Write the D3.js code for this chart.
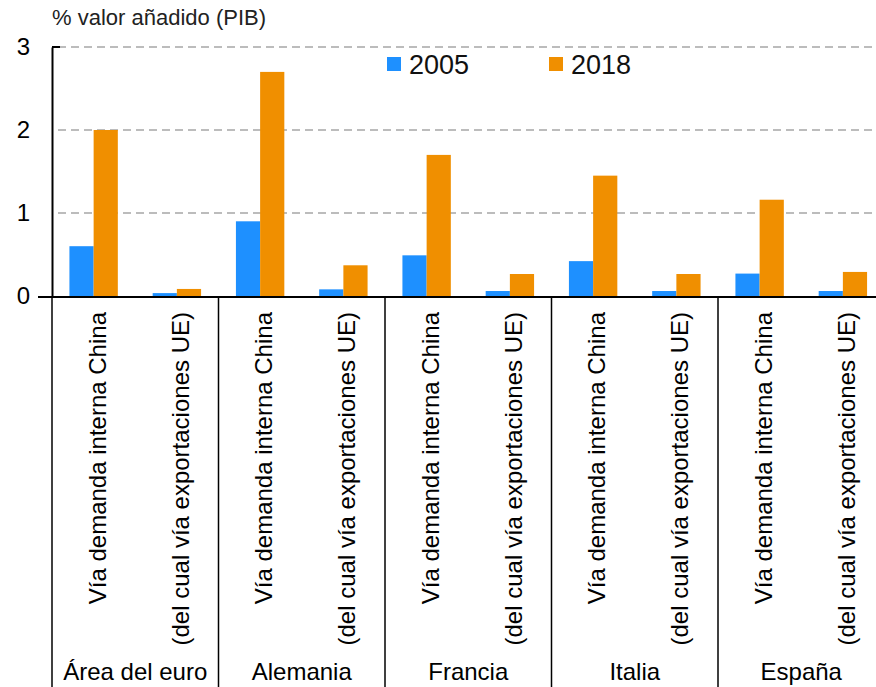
<!DOCTYPE html>
<html>
<head>
<meta charset="utf-8">
<script src="https://cdn.jsdelivr.net/npm/d3@7"></script>
<style>
  body { margin: 0; background: #fff; }
  svg { font-family: "Liberation Sans", Arial, sans-serif; }
</style>
</head>
<body>
<div id="chart"></div>
<script>
// data
var groups = ["Área del euro", "Alemania", "Francia", "Italia", "España"];
var subcats = ["Vía demanda interna China", "(del cual vía exportaciones UE)"];
var years = ["2005", "2018"];
var values2005 = [0.60, 0.035, 0.90, 0.08, 0.49, 0.06, 0.42, 0.06, 0.27, 0.06];
var values2018 = [2.00, 0.085, 2.70, 0.37, 1.70, 0.265, 1.45, 0.265, 1.16, 0.29];
var yTicks = [0, 1, 2, 3];

var w = 876, h = 687;
var pLeft = 52, pTop = 47, base = 296;
var groupW = 166.5;

var svg = d3.select("#chart").append("svg")
  .attr("width", w).attr("height", h);

// one row per bar category
var rows = [];
groups.forEach(function(g, gi) {
  subcats.forEach(function(s, si) {
    rows.push({ key: g + "|" + s, group: g, sub: s,
      v: [values2005[gi * 2 + si], values2018[gi * 2 + si]] });
  });
});

var xScale = d3.scaleBand()
  .domain(rows.map(function(d) { return d.key; }))
  .range([pLeft, pLeft + groupW * groups.length])
  .paddingInner(0).paddingOuter(0);

var xInner = d3.scaleBand()
  .domain(years)
  .range([0, xScale.bandwidth()])
  .paddingInner(0).paddingOuter(0.72);

var yScale = d3.scaleLinear()
  .domain([0, 3])
  .range([base, pTop]);

var colors = { "2005": "#1e90ff", "2018": "#f08f00" };

// dashed gridlines
svg.append("g").selectAll("line")
  .data(yTicks.filter(function(t) { return t > 0; }))
  .enter().append("line")
  .attr("x1", pLeft + 6).attr("x2", w)
  .attr("y1", function(d) { return yScale(d); })
  .attr("y2", function(d) { return yScale(d); })
  .attr("stroke", "#a6a6a6")
  .attr("stroke-width", 1.6)
  .attr("stroke-dasharray", "8,5");

// bars
var cat = svg.append("g").selectAll("g")
  .data(rows).enter().append("g")
  .attr("transform", function(d) { return "translate(" + xScale(d.key) + ",0)"; });

cat.selectAll("rect")
  .data(function(d) { return years.map(function(y, i) { return { year: y, v: d.v[i] }; }); })
  .enter().append("rect")
  .attr("x", function(d) { return xInner(d.year); })
  .attr("width", xInner.bandwidth())
  .attr("y", function(d) { return yScale(d.v); })
  .attr("height", function(d) { return base - yScale(d.v); })
  .attr("fill", function(d) { return colors[d.year]; });

// y axis
var yAxis = d3.axisLeft(yScale).tickValues(yTicks).tickSize(0).tickPadding(22)
  .tickFormat(d3.format("d"));
var ya = svg.append("g")
  .attr("transform", "translate(" + pLeft + ",0)")
  .call(yAxis);
ya.select(".domain").attr("stroke", "#000").attr("stroke-width", 2);
ya.selectAll("text").attr("font-size", 24).attr("fill", "#000")
  .attr("font-family", "Liberation Sans, Arial, sans-serif");
ya.selectAll(".tick line").remove();
svg.append("line")
  .attr("x1", pLeft).attr("x2", pLeft + 8)
  .attr("y1", yScale(3)).attr("y2", yScale(3))
  .attr("stroke", "#000").attr("stroke-width", 2);

// baseline
svg.append("line")
  .attr("x1", pLeft - 14).attr("x2", w)
  .attr("y1", base + 1).attr("y2", base + 1)
  .attr("stroke", "#000").attr("stroke-width", 2);

// group separators
svg.append("g").selectAll("line")
  .data(d3.range(groups.length + 1))
  .enter().append("line")
  .attr("x1", function(i) { return pLeft + i * groupW; })
  .attr("x2", function(i) { return pLeft + i * groupW; })
  .attr("y1", base + 1).attr("y2", h)
  .attr("stroke", "#000").attr("stroke-width", 1.5);

// rotated category labels
svg.append("g").selectAll("text")
  .data(rows).enter().append("text")
  .attr("transform", function(d) {
    return "translate(" + (xScale(d.key) + xScale.bandwidth() / 2 + 12) + "," + (base + 16) + ") rotate(-90)";
  })
  .attr("text-anchor", "end")
  .attr("font-size", 24)
  .attr("fill", "#000")
  .text(function(d) { return d.sub; });

// group labels
svg.append("g").selectAll("text")
  .data(groups).enter().append("text")
  .attr("x", function(d, i) { return pLeft + i * groupW + groupW / 2; })
  .attr("y", 680)
  .attr("text-anchor", "middle")
  .attr("font-size", 24)
  .attr("fill", "#000")
  .text(function(d) { return d; });

// title
svg.append("text")
  .attr("x", 52).attr("y", 25)
  .attr("font-size", 22)
  .attr("fill", "#222")
  .text("% valor añadido (PIB)");

// legend
var legX = [387, 549];
var leg = svg.append("g").selectAll("g")
  .data(years).enter().append("g")
  .attr("transform", function(d, i) { return "translate(" + legX[i] + ",57)"; });
leg.append("rect").attr("width", 14).attr("height", 14)
  .attr("fill", function(d) { return colors[d]; });
leg.append("text").attr("x", 22).attr("y", 17)
  .attr("font-size", 27).attr("fill", "#111")
  .text(function(d) { return d; });
</script>
</body>
</html>
